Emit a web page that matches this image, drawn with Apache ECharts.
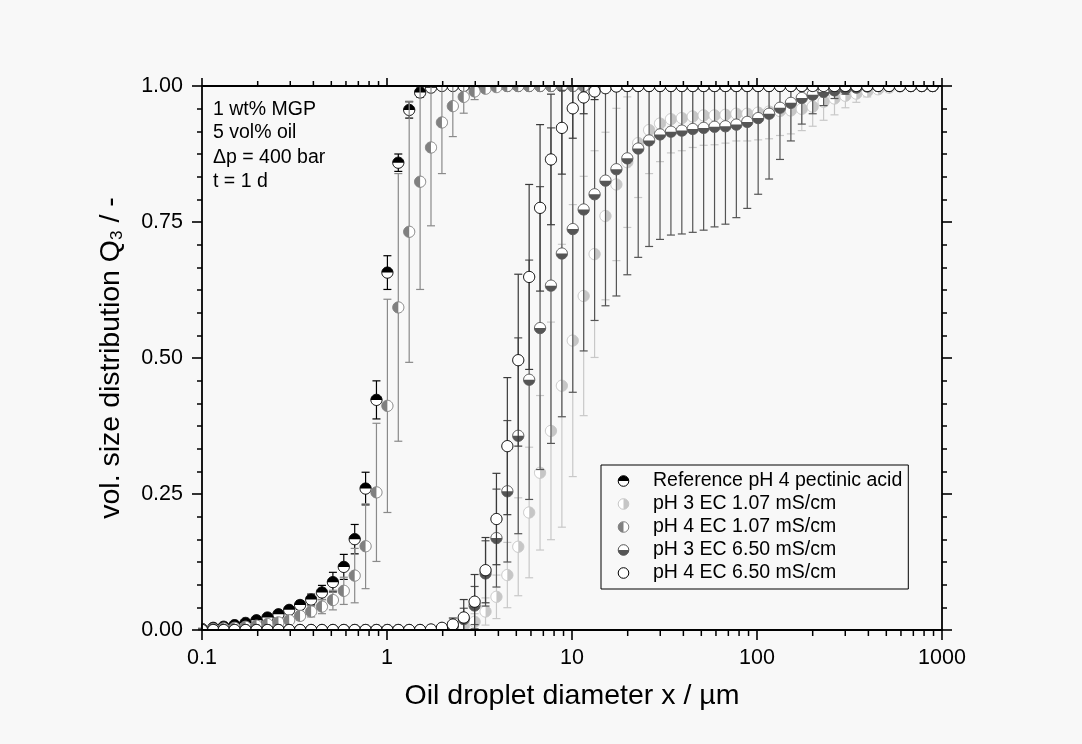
<!DOCTYPE html>
<html><head><meta charset="utf-8">
<script src="https://cdn.jsdelivr.net/npm/echarts@6/dist/echarts.min.js"></script>
<style>html,body{margin:0;padding:0;background:#f8f8f8}#c{width:1082px;height:744px}</style>
</head><body><div id="c"></div>
<script>
// ---------------- data ----------------
const sizes = [0.1, 0.115, 0.131, 0.15, 0.172, 0.197, 0.226, 0.259, 0.296, 0.339,
  0.389, 0.445, 0.51, 0.584, 0.669, 0.766, 0.877, 1.005, 1.151, 1.318,
  1.51, 1.729, 1.981, 2.269, 2.599, 2.976, 3.409, 3.905, 4.472, 5.122,
  5.867, 6.72, 7.697, 8.816, 10.097, 11.565, 13.246, 15.172, 17.377, 19.904,
  22.797, 26.111, 29.907, 34.255, 39.234, 44.938, 51.471, 58.953, 67.523, 77.34,
  88.583, 101.46, 116.21, 133.103, 152.453, 174.616, 200, 229.075, 262.376, 300.518,
  344.206, 394.244, 451.556, 517.2, 592.387, 678.504, 777.141, 890.116];

const seriesNames = ['Reference pH 4 pectinic acid', 'pH 3 EC 1.07 mS/cm', 'pH 4 EC 1.07 mS/cm', 'pH 3 EC 6.50 mS/cm', 'pH 4 EC 6.50 mS/cm'];
const xTickLabels = ['0.1', '1', '10', '100', '1000'];
const yTickLabels = ['0.00', '0.25', '0.50', '0.75', '1.00'];
const noteLines = ['1 wt% MGP', '5 vol% oil', '\u0394p = 400 bar', 't = 1 d'];

const refQ3 = [0.002, 0.004, 0.006, 0.009, 0.013, 0.018, 0.023, 0.029, 0.037, 0.046,
  0.056, 0.069, 0.088, 0.116, 0.167, 0.26, 0.423, 0.657, 0.859, 0.956,
  0.988, 0.997, 1, 1, 1, 1, 1, 1, 1, 1,
  1, 1, 1, 1, 1, 1, 1, 1, 1, 1,
  1, 1, 1, 1, 1, 1, 1, 1, 1, 1,
  1, 1, 1, 1, 1, 1, 1, 1, 1, 1,
  1, 1, 1, 1, 1, 1, 1, 1];
const refErr = [0.001, 0.001, 0.002, 0.002, 0.003, 0.003, 0.004, 0.005, 0.006, 0.008,
  0.01, 0.013, 0.018, 0.023, 0.027, 0.03, 0.035, 0.031, 0.016, 0.015,
  0.008, 0.003, 0, 0, 0, 0, 0, 0, 0, 0,
  0, 0, 0, 0, 0, 0, 0, 0, 0, 0,
  0, 0, 0, 0, 0, 0, 0, 0, 0, 0,
  0, 0, 0, 0, 0, 0, 0, 0, 0, 0,
  0, 0, 0, 0, 0, 0, 0, 0];

const ph3lowQ3 = [0, 0, 0, 0, 0, 0, 0, 0, 0, 0,
  0, 0, 0, 0, 0, 0, 0, 0, 0, 0,
  0, 0, 0.001, 0.003, 0.007, 0.015, 0.034, 0.061, 0.101, 0.153,
  0.216, 0.289, 0.366, 0.449, 0.532, 0.614, 0.691, 0.761, 0.819, 0.86,
  0.895, 0.919, 0.931, 0.939, 0.941, 0.944, 0.946, 0.946, 0.947, 0.949,
  0.949, 0.951, 0.953, 0.954, 0.955, 0.958, 0.962, 0.971, 0.977, 0.982,
  0.986, 0.99, 0.994, 0.997, 0.999, 1, 1, 1];
const ph3lowErr = [0, 0, 0, 0, 0, 0, 0, 0, 0, 0,
  0, 0, 0, 0, 0, 0, 0, 0, 0, 0,
  0, 0, 0.001, 0.003, 0.008, 0.015, 0.025, 0.04, 0.06, 0.09,
  0.12, 0.142, 0.2, 0.26, 0.25, 0.22, 0.19, 0.154, 0.14, 0.12,
  0.1, 0.08, 0.07, 0.062, 0.06, 0.057, 0.055, 0.054, 0.052, 0.05,
  0.05, 0.05, 0.05, 0.045, 0.043, 0.04, 0.036, 0.034, 0.03, 0.022,
  0.016, 0.01, 0.006, 0.003, 0.001, 0, 0, 0];

const ph4lowQ3 = [0.001, 0.002, 0.003, 0.004, 0.006, 0.008, 0.011, 0.014, 0.018, 0.026,
  0.034, 0.043, 0.055, 0.072, 0.1, 0.154, 0.253, 0.412, 0.593, 0.732,
  0.824, 0.887, 0.933, 0.963, 0.98, 0.99, 0.995, 0.998, 1, 1,
  1, 1, 1, 1, 1, 1, 1, 1, 1, 1,
  1, 1, 1, 1, 1, 1, 1, 1, 1, 1,
  1, 1, 1, 1, 1, 1, 1, 1, 1, 1,
  1, 1, 1, 1, 1, 1, 1, 1];
const ph4lowErr = [0.001, 0.001, 0.002, 0.002, 0.003, 0.003, 0.004, 0.005, 0.006, 0.008,
  0.01, 0.013, 0.018, 0.025, 0.05, 0.078, 0.127, 0.196, 0.246, 0.24,
  0.198, 0.144, 0.094, 0.056, 0.03, 0.015, 0.006, 0.002, 0, 0,
  0, 0, 0, 0, 0, 0, 0, 0, 0, 0,
  0, 0, 0, 0, 0, 0, 0, 0, 0, 0,
  0, 0, 0, 0, 0, 0, 0, 0, 0, 0,
  0, 0, 0, 0, 0, 0, 0, 0];

const ph3highQ3 = [0, 0, 0, 0, 0, 0, 0, 0, 0, 0,
  0, 0, 0, 0, 0, 0, 0, 0, 0, 0,
  0, 0, 0.003, 0.008, 0.02, 0.045, 0.104, 0.169, 0.255, 0.357,
  0.46, 0.555, 0.633, 0.692, 0.737, 0.773, 0.801, 0.826, 0.847, 0.867,
  0.885, 0.9, 0.911, 0.916, 0.918, 0.921, 0.923, 0.925, 0.926, 0.929,
  0.934, 0.941, 0.949, 0.96, 0.969, 0.978, 0.984, 0.989, 0.992, 0.995,
  0.997, 0.999, 1, 1, 1, 1, 1, 1];
const ph3highErr = [0, 0, 0, 0, 0, 0, 0, 0, 0, 0,
  0, 0, 0, 0, 0, 0, 0, 0, 0, 0,
  0, 0, 0.003, 0.008, 0.02, 0.035, 0.06, 0.09, 0.13, 0.18,
  0.22, 0.26, 0.29, 0.3, 0.3, 0.26, 0.232, 0.23, 0.233, 0.214,
  0.2, 0.195, 0.193, 0.19, 0.19, 0.19, 0.188, 0.184, 0.18, 0.171,
  0.159, 0.14, 0.12, 0.095, 0.07, 0.048, 0.035, 0.025, 0.015, 0.01,
  0.005, 0.002, 0, 0, 0, 0, 0, 0];

const ph4highQ3 = [0, 0, 0, 0, 0, 0, 0, 0, 0, 0,
  0, 0, 0, 0, 0, 0, 0, 0, 0, 0,
  0, 0.001, 0.004, 0.01, 0.023, 0.052, 0.11, 0.204, 0.338, 0.496,
  0.649, 0.776, 0.865, 0.923, 0.959, 0.979, 0.99, 0.996, 0.999, 1,
  1, 1, 1, 1, 1, 1, 1, 1, 1, 1,
  1, 1, 1, 1, 1, 1, 1, 1, 1, 1,
  1, 1, 1, 1, 1, 1, 1, 1];
const ph4highErr = [0, 0, 0, 0, 0, 0, 0, 0, 0, 0,
  0, 0, 0, 0, 0, 0, 0, 0, 0, 0,
  0, 0.001, 0.004, 0.012, 0.033, 0.05, 0.06, 0.084, 0.126, 0.158,
  0.17, 0.153, 0.12, 0.085, 0.055, 0.03, 0.015, 0.006, 0.002, 0,
  0, 0, 0, 0, 0, 0, 0, 0, 0, 0,
  0, 0, 0, 0, 0, 0, 0, 0, 0, 0,
  0, 0, 0, 0, 0, 0, 0, 0];

// ---------------- styling ----------------
const FONT = '"Liberation Sans", Arial, Helvetica, sans-serif';
const R = 5.6;
const PI = Math.PI;
const styles = [
  { half: PI, fill: '#000000', stroke: '#000000', err: '#000000' },
  { half: -PI / 2, fill: '#c6c6c6', stroke: '#c6c6c6', err: '#c8c8c8' },
  { half: PI / 2, fill: '#808080', stroke: '#808080', err: '#8a8a8a' },
  { half: 0, fill: '#555555', stroke: '#555555', err: '#555555' },
  { half: null, fill: null, stroke: '#000000', err: '#3a3a3a' }
];
const allQ3 = [refQ3, ph3lowQ3, ph4lowQ3, ph3highQ3, ph4highQ3];
const allErr = [refErr, ph3lowErr, ph4lowErr, ph3highErr, ph4highErr];

function arcPts(cx, cy, r, a0, span, n) {
  const p = [];
  for (let k = 0; k <= n; k++) {
    const a = a0 + span * k / n;
    p.push([cx + r * Math.cos(a), cy + r * Math.sin(a)]);
  }
  return p;
}
// Sutherland-Hodgman clipping of a polygon to the plot rectangle
function clipPoly(pts, rc) {
  const bounds = [[0, rc.x, 1], [0, rc.x + rc.width, -1], [1, rc.y, 1], [1, rc.y + rc.height, -1]];
  let out = pts;
  for (const [k, v, s] of bounds) {
    const inp = out; out = [];
    if (!inp.length) break;
    for (let i = 0; i < inp.length; i++) {
      const a = inp[i], b = inp[(i + 1) % inp.length];
      const ina = s * (a[k] - v) >= -1e-9, inb = s * (b[k] - v) >= -1e-9;
      if (ina) out.push(a);
      if (ina !== inb) {
        const t = (v - a[k]) / (b[k] - a[k]);
        out.push([a[0] + t * (b[0] - a[0]), a[1] + t * (b[1] - a[1])]);
      }
    }
  }
  return out;
}

function iconUrl(st) {
  const cx = 6.5, cy = 6.5, r = 5.3;
  let half = '';
  if (st.half !== null) {
    let d;
    if (st.half === PI) d = `M${cx - r},${cy} A${r},${r} 0 0 1 ${cx + r},${cy} Z`;
    else if (st.half === 0) d = `M${cx + r},${cy} A${r},${r} 0 0 1 ${cx - r},${cy} Z`;
    else if (st.half === -PI / 2) d = `M${cx},${cy - r} A${r},${r} 0 0 1 ${cx},${cy + r} Z`;
    else d = `M${cx},${cy + r} A${r},${r} 0 0 1 ${cx},${cy - r} Z`;
    half = `<path d="${d}" fill="${st.fill}"/>`;
  }
  const svg = `<svg xmlns="http://www.w3.org/2000/svg" width="31" height="13" viewBox="0 0 31 13">` +
    `<circle cx="${cx}" cy="${cy}" r="${r}" fill="#ffffff"/>${half}` +
    `<circle cx="${cx}" cy="${cy}" r="${r}" fill="none" stroke="${st.stroke}" stroke-width="1"/></svg>`;
  return 'image://data:image/svg+xml;charset=utf-8,' + encodeURIComponent(svg);
}

function makeRender(st) {
  return function (params, api) {
    const cs = params.coordSys;
    const top = cs.y, bot = cs.y + cs.height;
    const x = api.value(0), y = api.value(1), e = api.value(2);
    const c = api.coord([x, y]);
    const ch = [];
    if (e > 0) {
      const t = api.coord([x, y + e])[1], b = api.coord([x, y - e])[1];
      const ls = { stroke: st.err, lineWidth: 1.2 };
      ch.push({ type: 'line', shape: { x1: c[0], y1: Math.max(t, top), x2: c[0], y2: Math.min(b, bot) }, style: ls });
      if (t >= top) ch.push({ type: 'line', shape: { x1: c[0] - 4, y1: t, x2: c[0] + 4, y2: t }, style: ls });
      if (b <= bot) ch.push({ type: 'line', shape: { x1: c[0] - 4, y1: b, x2: c[0] + 4, y2: b }, style: ls });
    }
    const circ = clipPoly(arcPts(c[0], c[1], R, 0, 2 * PI, 40).slice(0, 40), cs);
    if (circ.length >= 3) {
      ch.push({ type: 'polygon', shape: { points: circ }, style: { fill: '#ffffff' } });
      if (st.half !== null) {
        const h = clipPoly(arcPts(c[0], c[1], R, st.half, PI, 20), cs);
        if (h.length >= 3) ch.push({ type: 'polygon', shape: { points: h }, style: { fill: st.fill } });
      }
      ch.push({ type: 'polygon', shape: { points: circ }, style: { fill: 'none', stroke: st.stroke, lineWidth: 1 } });
    }
    return { type: 'group', children: ch };
  };
}

const series = seriesNames.map((name, i) => ({
  name: name,
  type: 'custom',
  xAxisIndex: 0, yAxisIndex: 0,
  renderItem: makeRender(styles[i]),
  encode: { x: 0, y: 1 },
  data: sizes.map((s, k) => [s, allQ3[i][k], allErr[i][k]]),
  z: 2 + i
}));

const axisLine = { show: true, onZero: false, lineStyle: { color: '#000', width: 1.8 } };
const tickFmtX = v => { const s = String(+(+v).toPrecision(6)); return xTickLabels.indexOf(s) >= 0 ? s : ''; };
const tickFmtY = v => yTickLabels[Math.round(v / 0.25)] || '';

const option = {
  animation: false,
  backgroundColor: '#f8f8f8',
  grid: { left: 202, right: 140, top: 86, bottom: 114, containLabel: false },
  xAxis: [
    { type: 'log', logBase: 10, min: 0.1, max: 1000, position: 'bottom', z: 30,
      axisLine: axisLine, axisTick: { show: true, length: 10, lineStyle: { color: '#000', width: 1.6 } },
      splitLine: { show: false },
      axisLabel: { formatter: tickFmtX, fontSize: 21.5, fontFamily: FONT, color: '#000', margin: 17 },
      name: 'Oil droplet diameter x / \u00b5m', nameLocation: 'middle', nameGap: 52,
      nameTextStyle: { fontSize: 28.5, fontFamily: FONT, color: '#000' } },
    { type: 'log', logBase: 10, min: 0.1, max: 1000, position: 'top', z: 30,
      axisLine: axisLine, axisTick: { show: true, length: 8, lineStyle: { color: '#000', width: 1.6 } },
      splitLine: { show: false }, axisLabel: { show: false } }
  ],
  yAxis: [
    { type: 'value', min: 0, max: 1, interval: 0.25, position: 'left', z: 30,
      axisLine: axisLine, axisTick: { show: true, length: 10, lineStyle: { color: '#000', width: 1.6 } },
      minorTick: { show: true, splitNumber: 6, length: 5, lineStyle: { color: '#000', width: 1.5 } },
      splitLine: { show: false },
      axisLabel: { formatter: tickFmtY, fontSize: 21.5, fontFamily: FONT, color: '#000', margin: 19 },
      name: 'vol. size distribution Q{sub|3} / -', nameLocation: 'middle', nameGap: 76,
      nameTextStyle: { fontSize: 28.5, fontFamily: FONT, color: '#000',
        rich: { sub: { fontSize: 17, fontFamily: FONT, color: '#000', verticalAlign: 'bottom', padding: [12, 0, 0, 0] } } } },
    { type: 'value', min: 0, max: 1, interval: 0.25, position: 'right', z: 30,
      axisLine: axisLine, axisTick: { show: true, length: 10, lineStyle: { color: '#000', width: 1.6 } },
      minorTick: { show: true, splitNumber: 6, length: 5, lineStyle: { color: '#000', width: 1.5 } },
      splitLine: { show: false }, axisLabel: { show: false } }
  ],
  legend: {
    data: seriesNames.map((n, i) => ({ name: n, icon: iconUrl(styles[i]) })),
    orient: 'vertical', left: 601, top: 465,
    itemWidth: 31, itemHeight: 13, itemGap: 3,
    padding: [6, 6, 6, 16],
    borderColor: '#000', borderWidth: 1,
    selectedMode: false,
    textStyle: { fontSize: 19.5, fontFamily: FONT, color: '#000', lineHeight: 20 }
  },
  series: series
};

const chart = echarts.init(document.getElementById('c'), null, { renderer: 'canvas' });
chart.setOption(option);

// annotation texts and log-axis minor ticks (2..9 per decade), placed through the axis scale
const notes = noteLines.map((t, i) => ({
  type: 'text', left: 213, top: [100, 123, 148, 172][i],
  style: { text: t, fontSize: 19.5, fontFamily: FONT, fill: '#000' }
}));
const gTop = chart.convertToPixel({ yAxisIndex: 0 }, 1);
const gBot = chart.convertToPixel({ yAxisIndex: 0 }, 0);
const ticks = [];
[0.1, 1, 10, 100].forEach(d => {
  for (let m = 2; m <= 9; m++) {
    const px = chart.convertToPixel({ xAxisIndex: 0 }, m * d);
    ticks.push({ type: 'line', z: 40, silent: true, shape: { x1: px, y1: gBot, x2: px, y2: gBot + 6 }, style: { stroke: '#000', lineWidth: 1.5 } });
    ticks.push({ type: 'line', z: 40, silent: true, shape: { x1: px, y1: gTop, x2: px, y2: gTop - 5 }, style: { stroke: '#000', lineWidth: 1.5 } });
  }
});
chart.setOption({ graphic: notes.concat(ticks) });
</script>
</body></html>
